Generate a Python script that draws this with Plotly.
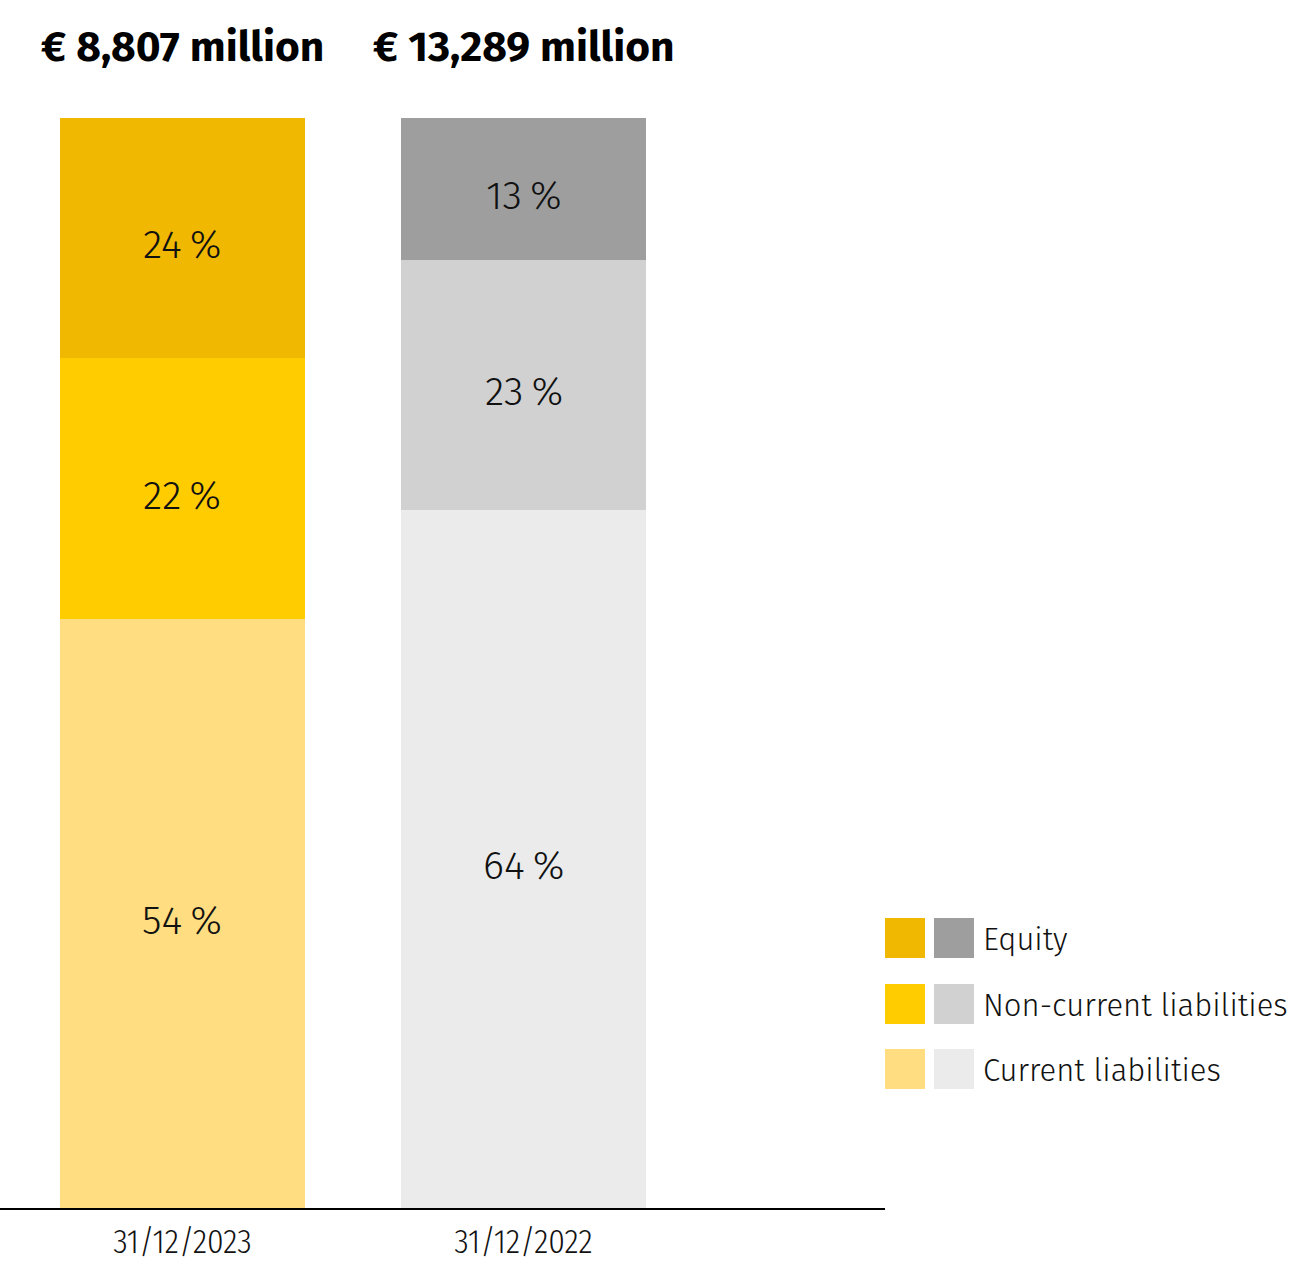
import plotly.graph_objects as go

categories = ["31/12/2023", "31/12/2022"]
totals = ["€ 8,807 million", "€ 13,289 million"]
series_names = ["Current liabilities", "Non-current liabilities", "Equity"]
# segment heights (% of balance sheet total), bottom to top
current = [54, 64]
non_current = [24, 23]
equity = [22, 13]
# printed labels
current_lbl = ["54\u2009%", "64\u2009%"]
non_current_lbl = ["22\u2009%", "23\u2009%"]
equity_lbl = ["24\u2009%", "13\u2009%"]

colors = {
    "Current liabilities": ["#FFDD80", "#EBEBEB"],
    "Non-current liabilities": ["#FFCC00", "#D0D1D0"],
    "Equity": ["#F0B800", "#9E9E9E"],
}

FONT = "Fira Sans, Open Sans, sans-serif"
NARROW = "Fira Sans Condensed, Liberation Sans Narrow, Roboto, sans-serif"

stack = [("Current liabilities", current, current_lbl),
         ("Non-current liabilities", non_current, non_current_lbl),
         ("Equity", equity, equity_lbl)]

fig = go.Figure()
annotations = []
base = [0] * len(categories)
for name, vals, lbl in stack:
    fig.add_trace(go.Bar(
        x=categories, y=vals, name=name,
        marker=dict(color=colors[name], line=dict(width=0)),
        width=0.718, showlegend=False, hoverinfo="skip",
    ))
    for j, c in enumerate(categories):
        annotations.append(dict(x=c, y=base[j] + vals[j] / 2, xref="x", yref="y",
                                text=lbl[j], showarrow=False, yshift=-7,
                                xanchor="center", yanchor="middle",
                                font=dict(family=FONT, size=40, color="#111111", weight=300)))
        base[j] += vals[j]

for c, t in zip(categories, totals):
    annotations.append(dict(x=c, y=1.066, xref="x", yref="paper", text=t,
                            showarrow=False, xanchor="center", yanchor="middle",
                            font=dict(family=FONT, size=42.5, color="#000000", weight=700)))

shapes = []
PW, PH, TOP = 885.0, 1090.0, 118.0
def px_x(p):
    return p / PW
def px_y(p):
    return (TOP + PH - p) / PH

legend_rows = [("Equity", 918), ("Non-current liabilities", 984), ("Current liabilities", 1049)]
for name, ytop in legend_rows:
    for i, x0 in enumerate([885, 934]):
        shapes.append(dict(type="rect", xref="paper", yref="paper",
                           x0=px_x(x0), x1=px_x(x0 + 40), y0=px_y(ytop + 40), y1=px_y(ytop),
                           fillcolor=colors[name][i], line=dict(width=0)))
    annotations.append(dict(x=px_x(981), y=px_y(ytop + 21), xref="paper", yref="paper",
                            text=name, showarrow=False, xanchor="left", yanchor="middle",
                            font=dict(family=FONT, size=31, color="#111111", weight=300)))

fig.update_layout(
    barmode="stack",
    width=1290, height=1263,
    margin=dict(l=0, r=405, t=118, b=55, autoexpand=False),
    paper_bgcolor="white", plot_bgcolor="white",
    annotations=annotations, shapes=shapes,
    xaxis=dict(type="category", range=[-0.535, 2.060], showline=True, linecolor="#000000",
               linewidth=2, ticks="", showgrid=False, ticklabelstandoff=3, automargin=False,
               tickfont=dict(family=NARROW, size=33, color="#111111", weight=300)),
    yaxis=dict(range=[0, 100], visible=False, showgrid=False, automargin=False),
)

fig.write_html("out.html", config={"displayModeBar": False},
               post_script="document.body.style.margin='0';")
